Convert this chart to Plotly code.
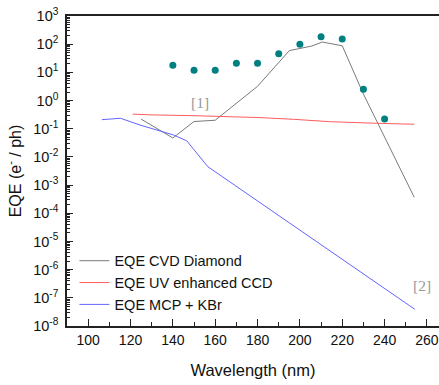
import math
import plotly.graph_objects as go

# ---- data ----
dots_wl = [140, 150, 160, 170, 180, 190, 200, 210, 220, 230, 240]
dots_eqe = [18, 12, 11.8, 21, 21, 46, 99, 184, 153, 2.5, 0.22]

cvd_wl = [125, 140, 150, 160, 180, 195, 205.6, 210.6, 220, 230, 254]
cvd_eqe = [0.22, 0.047, 0.18, 0.20, 3.2, 59, 86, 119, 88, 1.7, 3.7e-4]

ccd_wl = [121, 130, 150, 170, 180, 197, 214, 236, 254]
ccd_eqe = [0.33, 0.31, 0.29, 0.27, 0.25, 0.216, 0.178, 0.156, 0.144]

mcp_wl = [106.5, 115.3, 124.5, 130.8, 140.3, 146.6, 156.5, 254.3]
mcp_eqe = [0.21, 0.235, 0.135, 0.10, 0.060, 0.037, 0.0045, 3.9e-8]

y_exp = list(range(-8, 4))
y_ticktext = [f"10<sup>{e}</sup>" for e in y_exp]
x_ticks = [100, 120, 140, 160, 180, 200, 220, 240, 260]

ref_labels = ["[1]", "[2]"]
ref_wl = [153, 257.6]
ref_eqe = [0.82, 2.85e-7]

font_family = "Liberation Sans, Arial, sans-serif"

fig = go.Figure()
fig.add_trace(go.Scatter(x=cvd_wl, y=cvd_eqe, mode="lines", name="EQE CVD Diamond",
                         line=dict(color="#7a7a7a", width=1)))
fig.add_trace(go.Scatter(x=ccd_wl, y=ccd_eqe, mode="lines", name="EQE UV enhanced CCD",
                         line=dict(color="#ff5c5c", width=1)))
fig.add_trace(go.Scatter(x=mcp_wl, y=mcp_eqe, mode="lines", name="EQE MCP + KBr",
                         line=dict(color="#6464ff", width=1)))
fig.add_trace(go.Scatter(x=dots_wl, y=dots_eqe, mode="markers", showlegend=False,
                         marker=dict(color="#008080", size=7)))

minor_vals = [k * 10 ** e for e in range(-8, 3) for k in range(2, 10)]

fig.update_layout(
    width=439, height=385,
    margin=dict(l=67, r=0, t=16, b=59),
    paper_bgcolor="white", plot_bgcolor="white",
    font=dict(family=font_family, color="#111", size=14),
    showlegend=True,
    legend=dict(x=0.02, y=0.262, xanchor="left", yanchor="top",
                bgcolor="rgba(0,0,0,0)", font=dict(size=14.5),
                tracegroupgap=0, itemwidth=30),
    xaxis=dict(range=[90, 265.7], tickvals=x_ticks, ticks="inside", ticklen=7,
               tickcolor="#222", showline=True, linecolor="#222", linewidth=1.5,
               mirror=True, showgrid=False, zeroline=False,
               tickfont=dict(size=14),
               minor=dict(dtick=10, tick0=90, ticks="inside", ticklen=4, tickcolor="#222"),
               title=dict(text="Wavelength (nm)", font=dict(size=16.5), standoff=18)),
    yaxis=dict(type="log", range=[-8, 3], tickvals=[10 ** e for e in y_exp],
               ticktext=y_ticktext, ticks="inside", ticklen=6, tickcolor="#222",
               showline=True, linecolor="#222", linewidth=1.5, showgrid=False,
               zeroline=False, tickfont=dict(size=14.5), ticklabelstandoff=4,
               minor=dict(tickvals=minor_vals, ticks="inside", ticklen=3, tickcolor="#222"),
               title=dict(text="EQE (e<sup>-</sup> / ph)", font=dict(size=16), standoff=8)),
    annotations=[
        dict(x=wl, y=math.log10(v), xref="x", yref="y", text=t, showarrow=False,
             font=dict(family="Liberation Serif, Times New Roman, serif", size=15.5, color="#999"))
        for t, wl, v in zip(ref_labels, ref_wl, ref_eqe)
    ],
)

fig.write_html("out.html")
